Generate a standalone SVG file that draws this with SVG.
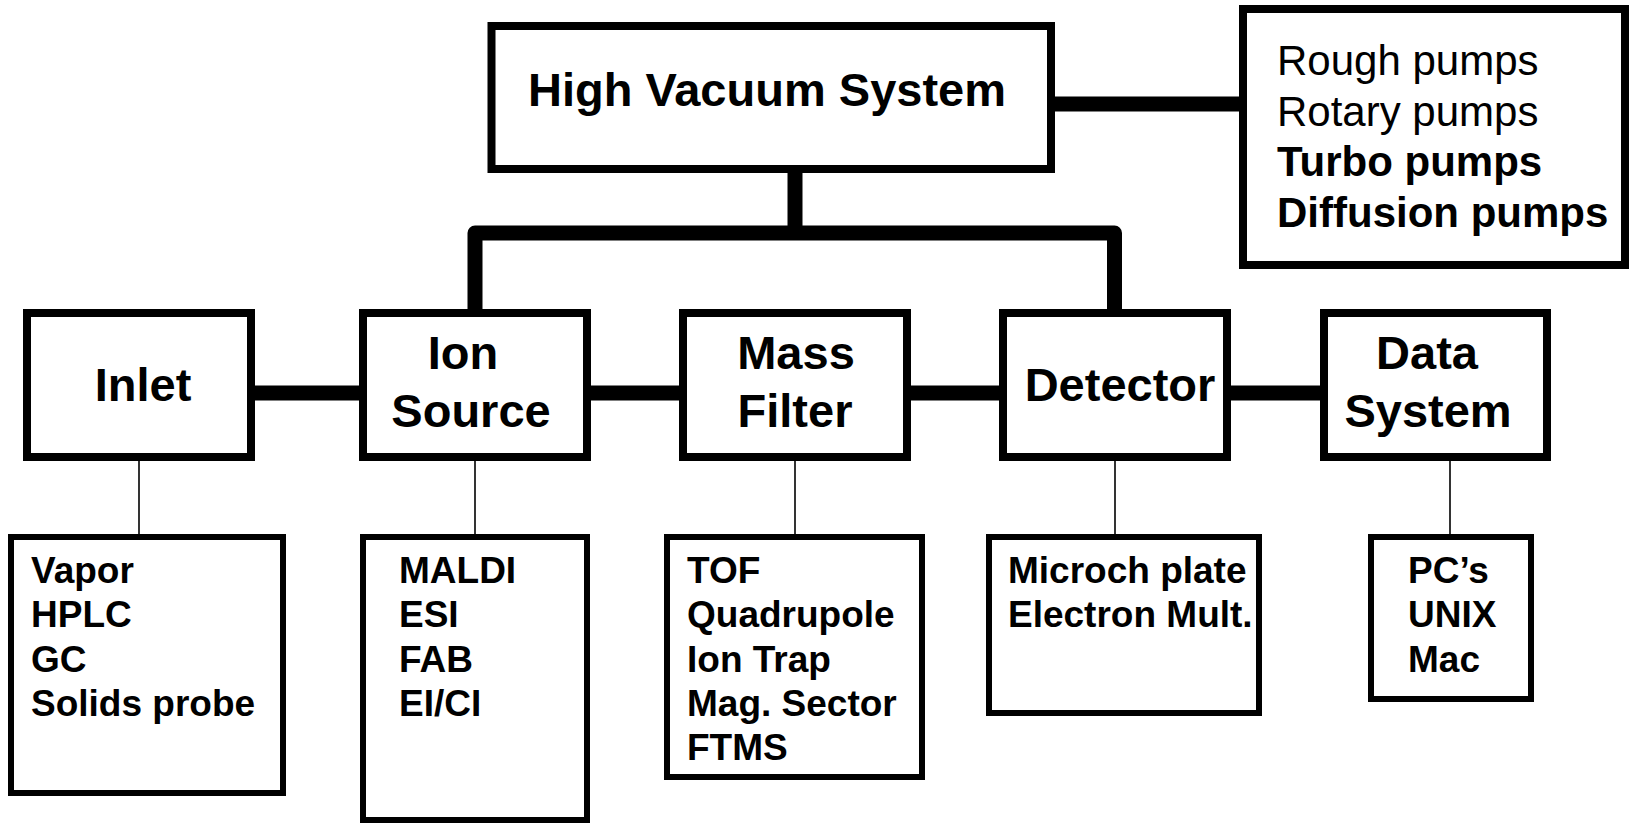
<svg xmlns="http://www.w3.org/2000/svg" width="1634" height="824" viewBox="0 0 1634 824">
<style>
.box{fill:#fff;stroke:#000;stroke-width:8}
.sub{fill:#fff;stroke:#000;stroke-width:6}
.thick{fill:none;stroke:#000;stroke-width:15;stroke-linejoin:round}
.thin{fill:none;stroke:#000;stroke-width:1.6}
.lbl{font-family:"Liberation Sans",Arial,sans-serif;font-weight:bold;font-size:47px;fill:#000;text-anchor:middle}
.lst{font-family:"Liberation Sans",Arial,sans-serif;font-weight:bold;font-size:37px;fill:#000}
.pmp{font-family:"Liberation Sans",Arial,sans-serif;font-size:42px;fill:#000}
.b{font-weight:bold}
</style>
<rect width="1634" height="824" fill="#fff"/>
<g id="connectors">
<line class="thick" x1="1055" y1="104" x2="1239" y2="104"/>
<line class="thick" x1="795" y1="172" x2="795" y2="233"/>
<path class="thick" d="M475,309 V233 H1114.5 V309"/>
<line class="thick" x1="255" y1="393" x2="359" y2="393"/>
<line class="thick" x1="591" y1="393" x2="679" y2="393"/>
<line class="thick" x1="911" y1="393" x2="999" y2="393"/>
<line class="thick" x1="1231" y1="393" x2="1320" y2="393"/>
<line class="thin" x1="139" y1="461" x2="139" y2="534"/>
<line class="thin" x1="475" y1="461" x2="475" y2="534"/>
<line class="thin" x1="795" y1="461" x2="795" y2="534"/>
<line class="thin" x1="1115" y1="461" x2="1115" y2="534"/>
<line class="thin" x1="1450" y1="461" x2="1450" y2="534"/>
</g>
<g id="hvs">
<rect class="box" x="491.5" y="26" width="559.5" height="143"/>
<text class="lbl" x="767" y="106">High Vacuum System</text>
</g>
<g id="pumps">
<rect class="box" x="1243" y="9" width="382" height="256"/>
<text class="pmp" x="1277" y="75">Rough pumps</text>
<text class="pmp" x="1277" y="126">Rotary pumps</text>
<text class="pmp b" x="1277" y="176">Turbo pumps</text>
<text class="pmp b" x="1277" y="227">Diffusion pumps</text>
</g>
<g id="inlet">
<rect class="box" x="27" y="313" width="224" height="144"/>
<text class="lbl" x="143" y="401">Inlet</text>
</g>
<g id="ion-source">
<rect class="box" x="363" y="313" width="224" height="144"/>
<text class="lbl" x="463" y="369">Ion</text>
<text class="lbl" x="471" y="427">Source</text>
</g>
<g id="mass-filter">
<rect class="box" x="683" y="313" width="224" height="144"/>
<text class="lbl" x="796" y="369">Mass</text>
<text class="lbl" x="795" y="427">Filter</text>
</g>
<g id="detector">
<rect class="box" x="1003" y="313" width="224" height="144"/>
<text class="lbl" x="1120" y="401">Detector</text>
</g>
<g id="data-system">
<rect class="box" x="1324" y="313" width="223" height="144"/>
<text class="lbl" x="1427" y="369">Data</text>
<text class="lbl" x="1428" y="427">System</text>
</g>
<g id="inlet-list">
<rect class="sub" x="11" y="537" width="272" height="256"/>
<text class="lst" x="31" y="583">Vapor</text>
<text class="lst" x="31" y="627">HPLC</text>
<text class="lst" x="31" y="672">GC</text>
<text class="lst" x="31" y="716">Solids probe</text>
</g>
<g id="source-list">
<rect class="sub" x="363" y="537" width="224" height="283"/>
<text class="lst" x="399" y="583">MALDI</text>
<text class="lst" x="399" y="627">ESI</text>
<text class="lst" x="399" y="672">FAB</text>
<text class="lst" x="399" y="716">EI/CI</text>
</g>
<g id="filter-list">
<rect class="sub" x="667" y="537" width="255" height="240"/>
<text class="lst" x="687" y="583">TOF</text>
<text class="lst" x="687" y="627">Quadrupole</text>
<text class="lst" x="687" y="672">Ion Trap</text>
<text class="lst" x="687" y="716">Mag. Sector</text>
<text class="lst" x="687" y="760">FTMS</text>
</g>
<g id="detector-list">
<rect class="sub" x="989" y="537" width="270" height="176"/>
<text class="lst" x="1008" y="583">Microch plate</text>
<text class="lst" x="1008" y="627">Electron Mult.</text>
</g>
<g id="data-list">
<rect class="sub" x="1371" y="537" width="160" height="162"/>
<text class="lst" x="1408" y="583">PC’s</text>
<text class="lst" x="1408" y="627">UNIX</text>
<text class="lst" x="1408" y="672">Mac</text>
</g>
</svg>
